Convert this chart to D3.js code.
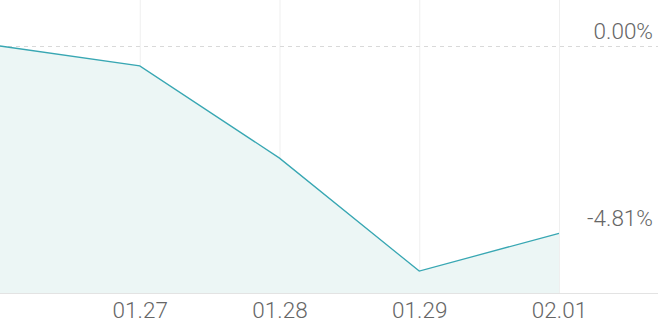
<!DOCTYPE html>
<html>
<head>
<meta charset="utf-8">
<script src="https://cdn.jsdelivr.net/npm/d3@7"></script>
<style>
  body { margin: 0; background: #fff; }
  text { font-family: Roboto, sans-serif; }
</style>
</head>
<body>
<div class="canvas"></div>
<script>
const dates = ['01.26', '01.27', '01.28', '01.29', '02.01'];
const returns = [0, -0.51, -2.88, -5.78, -4.81];
const tickLabels = ['01.27', '01.28', '01.29', '02.01'];

const dims = { width: 658, height: 323 };
const plot = { left: 0, right: 559, baseY: 293 };

const svg = d3.select('.canvas')
  .append('svg')
  .attr('width', dims.width)
  .attr('height', dims.height);

const x = d3.scalePoint()
  .domain(dates)
  .range([plot.left, plot.right]);

// 0% sits on the dashed line, last value sits at its label
const y = d3.scaleLinear()
  .domain([0, -4.81])
  .range([46, 233.3]);

// vertical grid
svg.selectAll('.vgrid')
  .data(tickLabels)
  .enter()
  .append('line')
    .attr('x1', d => x(d) + 0.5)
    .attr('x2', d => x(d) + 0.5)
    .attr('y1', 0)
    .attr('y2', plot.baseY)
    .attr('stroke', '#efefef')
    .attr('stroke-width', 1);

// area under line
const area = d3.area()
  .x((d, i) => x(dates[i]))
  .y0(plot.baseY)
  .y1(d => y(d));

svg.append('path')
  .datum(returns)
  .attr('d', area)
  .attr('fill', '#ecf6f5');

// zero line
svg.append('line')
  .attr('x1', 0)
  .attr('x2', dims.width)
  .attr('y1', y(0) + 0.5)
  .attr('y2', y(0) + 0.5)
  .attr('stroke', '#d9d9d9')
  .attr('stroke-dasharray', '4,4');

// x axis
const xAxis = d3.axisBottom(x)
  .tickValues(tickLabels)
  .tickSize(0)
  .tickPadding(0);

const gx = svg.append('g')
  .attr('transform', `translate(0, ${plot.baseY})`)
  .call(xAxis);

gx.select('.domain').remove();
gx.append('line')
  .attr('x1', 0)
  .attr('x2', dims.width)
  .attr('y1', 0.5)
  .attr('y2', 0.5)
  .attr('stroke', '#e3e3e3');
gx.selectAll('.tick text')
  .attr('dy', null)
  .attr('y', 25)
  .attr('font-family', 'Roboto, sans-serif')
  .attr('font-size', 22.5)
  .attr('font-weight', 300)
  .attr('fill', '#666');

// the line
const line = d3.line()
  .x((d, i) => x(dates[i]))
  .y(d => y(d));

svg.append('path')
  .datum(returns)
  .attr('d', line)
  .attr('fill', 'none')
  .attr('stroke', '#38a7b3')
  .attr('stroke-width', 1.3);

// value labels on the right
const labels = [0, returns[returns.length - 1]];
svg.selectAll('.vlabel')
  .data(labels)
  .enter()
  .append('text')
    .attr('x', 653)
    .attr('y', d => y(d) - 7)
    .attr('text-anchor', 'end')
    .attr('font-size', 22.5)
    .attr('font-weight', 300)
    .attr('fill', '#666')
    .text(d => d.toFixed(2) + '%');
</script>
</body>
</html>
